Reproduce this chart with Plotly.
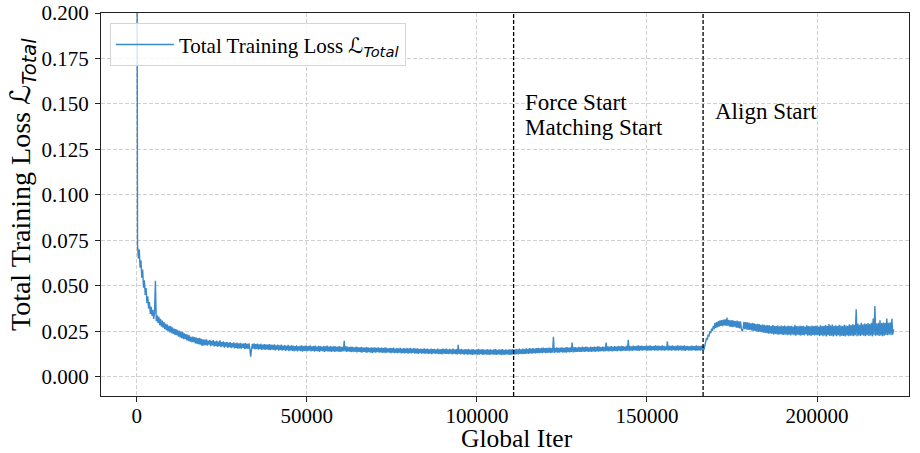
import plotly.graph_objects as go

# Logged every 250 iterations; loss stored in units of 1e-4
ITER_STEP = 250
ITERS = list(range(0, 222501, ITER_STEP))
LOSS_E4 = [
    # 0 - 9750
    3600, 720, 650, 700, 600, 640, 545, 590, 490, 530, 450, 488, 405, 442, 376, 410, 345, 385, 335, 368,
    318, 352, 528, 305, 338, 296, 330, 284, 318, 276, 309, 270, 300, 262, 292, 255, 286, 250, 280, 244,
    # 10000 - 19750
    278, 240, 272, 236, 265, 230, 262, 229, 257, 221, 252, 216, 248, 212, 247, 206, 239, 206, 235, 200,
    232, 196, 228, 193, 219, 189, 221, 190, 218, 183, 215, 180, 213, 178, 214, 176, 208, 170, 206, 172,
    # 20000 - 29750
    204, 174, 206, 171, 199, 176, 203, 168, 197, 173, 201, 166, 195, 170, 199, 164, 193, 168, 200, 163,
    190, 167, 194, 160, 189, 165, 192, 158, 187, 163, 190, 157, 185, 161, 189, 156, 184, 159, 187, 155,
    # 30000 - 39750
    184, 156, 186, 154, 182, 158, 183, 152, 185, 155, 180, 153, 184, 157, 110, 151, 181, 154, 183, 150,
    179, 153, 182, 149, 178, 152, 181, 148, 177, 151, 180, 147, 178, 150, 176, 148, 179, 146, 177, 149,
    # 40000 - 49750
    175, 147, 178, 145, 173, 149, 177, 144, 172, 148, 176, 143, 171, 147, 174, 142, 170, 146, 175, 141,
    169, 145, 173, 142, 171, 140, 168, 144, 172, 139, 167, 143, 170, 141, 173, 138, 168, 142, 171, 140,
    # 50000 - 59750
    170, 141, 168, 143, 172, 139, 167, 142, 169, 138, 171, 141, 166, 140, 170, 137, 168, 142, 165, 139,
    169, 136, 167, 141, 171, 138, 166, 140, 168, 137, 165, 139, 169, 136, 167, 140, 164, 138, 168, 137,
    # 60000 - 69750
    166, 138, 164, 140, 197, 139, 167, 136, 165, 139, 163, 137, 166, 135, 164, 138, 162, 136, 165, 134,
    163, 137, 161, 135, 164, 133, 162, 136, 160, 134, 163, 132, 161, 135, 159, 133, 162, 131, 160, 134,
    # 70000 - 79750
    161, 133, 159, 135, 162, 132, 158, 134, 160, 131, 157, 133, 161, 130, 158, 134, 156, 132, 159, 129,
    157, 133, 160, 130, 155, 131, 158, 129, 156, 132, 159, 128, 155, 130, 157, 129, 154, 131, 158, 127,
    # 80000 - 89750
    156, 130, 158, 128, 155, 131, 157, 127, 154, 129, 156, 126, 153, 130, 155, 127, 152, 128, 156, 125,
    153, 129, 154, 126, 151, 127, 155, 124, 152, 128, 153, 125, 150, 127, 154, 124, 151, 126, 152, 123,
    # 90000 - 99750
    154, 127, 152, 125, 155, 126, 151, 124, 153, 127, 150, 123, 154, 125, 151, 124, 152, 122, 175, 126,
    150, 123, 153, 125, 149, 122, 152, 124, 150, 121, 153, 123, 149, 122, 151, 120, 152, 123, 148, 121,
    # 100000 - 109750
    151, 122, 153, 121, 149, 124, 152, 120, 150, 123, 148, 121, 152, 122, 149, 120, 151, 123, 147, 121,
    150, 122, 152, 120, 148, 123, 151, 121, 149, 119, 152, 122, 148, 120, 150, 123, 147, 121, 151, 120,
    # 110000 - 119750
    150, 121, 152, 123, 149, 122, 153, 124, 150, 123, 154, 125, 151, 124, 155, 126, 152, 125, 156, 127,
    153, 126, 157, 128, 154, 127, 158, 129, 155, 128, 157, 130, 159, 129, 156, 131, 158, 130, 160, 132,
    # 120000 - 129750
    157, 130, 159, 131, 158, 132, 160, 130, 157, 133, 219, 131, 159, 134, 161, 132, 158, 133, 160, 135,
    162, 133, 159, 134, 161, 132, 163, 135, 160, 134, 162, 136, 188, 134, 161, 135, 163, 137, 160, 136,
    # 130000 - 139750
    164, 136, 162, 137, 165, 138, 163, 136, 166, 139, 164, 137, 162, 138, 165, 136, 163, 139, 166, 137,
    164, 140, 167, 138, 165, 139, 163, 141, 166, 139, 164, 140, 188, 141, 167, 139, 165, 142, 168, 140,
    # 140000 - 149750
    166, 141, 168, 142, 165, 140, 169, 143, 167, 141, 170, 142, 168, 144, 166, 142, 169, 143, 203, 141,
    170, 144, 167, 142, 171, 145, 168, 143, 170, 144, 172, 142, 169, 145, 171, 143, 168, 146, 170, 144,
    # 150000 - 159750
    171, 143, 169, 145, 172, 144, 168, 146, 170, 143, 173, 145, 169, 144, 171, 146, 168, 143, 172, 145,
    170, 144, 167, 146, 194, 143, 171, 145, 169, 144, 172, 146, 168, 143, 170, 145, 173, 144, 169, 146,
    # 160000 - 169750
    171, 143, 169, 145, 172, 142, 168, 146, 170, 144, 167, 145, 171, 143, 169, 146, 168, 144, 172, 143,
    170, 145, 168, 144, 171, 146, 169, 148, 172, 190, 214, 204, 232, 222, 250, 240, 264, 252, 280, 262,
    # 170000 - 179750
    296, 268, 300, 272, 306, 276, 310, 280, 312, 278, 314, 282, 316, 279, 325, 281, 313, 276, 310, 274,
    311, 272, 308, 275, 306, 270, 309, 268, 305, 266, 304, 263, 250, 264, 302, 262, 300, 260, 299, 258,
    # 180000 - 189750
    298, 257, 294, 255, 296, 251, 293, 252, 290, 249, 291, 246, 289, 247, 286, 245, 287, 242, 285, 241,
    282, 240, 284, 237, 282, 238, 279, 236, 284, 233, 280, 235, 278, 233, 282, 231, 277, 234, 281, 231,
    # 190000 - 199750
    279, 230, 281, 233, 277, 228, 282, 231, 278, 227, 280, 232, 276, 229, 285, 226, 279, 231, 277, 228,
    282, 225, 278, 230, 280, 227, 276, 232, 283, 226, 279, 229, 277, 224, 281, 230, 278, 227, 280, 229,
    # 200000 - 209750
    281, 228, 276, 224, 283, 229, 278, 223, 280, 227, 284, 222, 279, 228, 290, 224, 281, 226, 287, 221,
    280, 227, 283, 223, 278, 229, 285, 222, 281, 226, 279, 224, 286, 221, 282, 227, 280, 223, 288, 225,
    # 210000 - 219750
    284, 226, 288, 223, 285, 228, 371, 222, 292, 227, 286, 224, 296, 229, 288, 225, 293, 223, 290, 228,
    295, 224, 289, 227, 297, 222, 320, 228, 389, 225, 293, 229, 296, 224, 310, 227, 295, 223, 298, 226,
    # 220000 - 222500
    297, 230, 320, 228, 296, 232, 299, 229, 318, 231, 262,
]
TOTAL_LOSS = [v / 1e4 for v in LOSS_E4]

# Stage boundaries
FORCE_START = 110800
ALIGN_START = 166500

X_TICKS = [0, 50000, 100000, 150000, 200000]
Y_TICKS = [0.000, 0.025, 0.050, 0.075, 0.100, 0.125, 0.150, 0.175, 0.200]

SERIF = "Liberation Serif, Times New Roman, serif"
LINE_BLUE = "#3a8acb"
L_TOTAL = '<span style="font-family:DejaVu Sans">ℒ<sub><i>Total</i></sub></span>'

fig = go.Figure()
fig.add_trace(go.Scatter(
    x=ITERS, y=TOTAL_LOSS, mode="lines",
    line=dict(color=LINE_BLUE, width=1.4, simplify=False),
    name="Total Training Loss " + L_TOTAL,
))

# Stage markers
for xv in (FORCE_START, ALIGN_START):
    fig.add_shape(type="line", xref="x", yref="paper", x0=xv, x1=xv, y0=0, y1=1,
                  line=dict(color="black", width=1.3, dash="4px,2px"), layer="above")

fig.add_annotation(x=113570, y=0.1509, xref="x", yref="y", text="Force Start",
                   showarrow=False, xanchor="left", yanchor="middle",
                   font=dict(family=SERIF, size=23, color="black"))
fig.add_annotation(x=113570, y=0.1371, xref="x", yref="y", text="Matching Start",
                   showarrow=False, xanchor="left", yanchor="middle",
                   font=dict(family=SERIF, size=23, color="black"))
fig.add_annotation(x=169430, y=0.1457, xref="x", yref="y", text="Align Start",
                   showarrow=False, xanchor="left", yanchor="middle",
                   font=dict(family=SERIF, size=23, color="black"))

# Axis titles
fig.add_annotation(x=0.515, y=-0.112, xref="paper", yref="paper", text="Global Iter",
                   showarrow=False, xanchor="center", yanchor="middle",
                   font=dict(family=SERIF, size=25.5, color="black"))
fig.add_annotation(x=-0.0965, y=0.551, xref="paper", yref="paper",
                   text="Total Training Loss " + L_TOTAL, textangle=-90,
                   showarrow=False, xanchor="center", yanchor="middle",
                   font=dict(family=SERIF, size=28, color="black"))

axis_common = dict(
    showline=True, linecolor="#222", linewidth=1, mirror=True,
    ticks="outside", ticklen=5, tickwidth=1, tickcolor="#222",
    showgrid=True, gridcolor="#d0d0d0", gridwidth=0.8, griddash="4px,2px",
    zeroline=False,
    tickfont=dict(family=SERIF, size=21, color="black"),
)

fig.update_xaxes(range=[-10495, 227030], tickvals=X_TICKS,
                 ticktext=[str(v) for v in X_TICKS], ticklabelstandoff=-4, **axis_common)
fig.update_yaxes(range=[-0.0106, 0.2], tickvals=Y_TICKS,
                 ticktext=[f"{v:.3f}" for v in Y_TICKS], ticklabelstandoff=2, **axis_common)

fig.update_layout(
    width=920, height=453,
    margin=dict(l=101, r=11, t=13, b=57, autoexpand=False),
    plot_bgcolor="white", paper_bgcolor="white",
    font=dict(family=SERIF, color="black"),
    showlegend=True,
    legend=dict(x=0.011, y=0.973, xanchor="left", yanchor="top",
                bgcolor="rgba(255,255,255,0.8)", bordercolor="#d5d5d5", borderwidth=1,
                font=dict(family=SERIF, size=21, color="black"), itemwidth=58),
)

fig.write_html("out.html")
